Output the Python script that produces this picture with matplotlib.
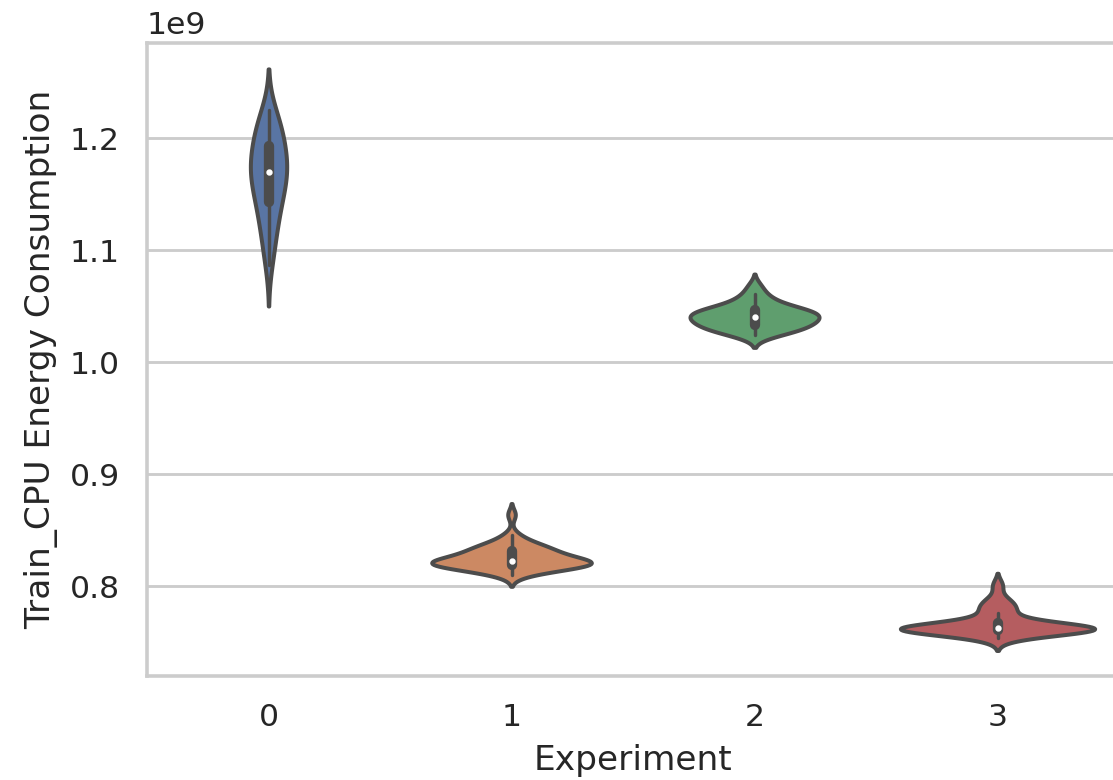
import numpy as np
import pandas as pd
import matplotlib
matplotlib.use("Agg")
import matplotlib.pyplot as plt
import seaborn as sns

# Train CPU energy per run, in units of 1e9
exp0 = [1.087, 1.100, 1.110, 1.118, 1.125, 1.131, 1.137, 1.142, 1.147, 1.151,
        1.155, 1.159, 1.162, 1.165, 1.168, 1.171, 1.174, 1.177, 1.180, 1.183,
        1.186, 1.190, 1.194, 1.198, 1.202, 1.206, 1.210, 1.215, 1.220, 1.225]
exp1 = [0.810, 0.812, 0.814, 0.815, 0.816, 0.817, 0.817, 0.818, 0.818, 0.819,
        0.819, 0.820, 0.820, 0.820, 0.821, 0.821, 0.821, 0.822, 0.822, 0.823,
        0.823, 0.824, 0.824, 0.825, 0.826, 0.827, 0.828, 0.829, 0.830, 0.831,
        0.832, 0.833, 0.834, 0.835, 0.836, 0.837, 0.839, 0.842, 0.846, 0.864]
exp2 = [1.024, 1.026, 1.027, 1.028, 1.030, 1.031, 1.032, 1.033, 1.034, 1.035,
        1.036, 1.037, 1.038, 1.039, 1.040, 1.041, 1.042, 1.043, 1.043, 1.044,
        1.045, 1.046, 1.047, 1.048, 1.049, 1.051, 1.054, 1.057, 1.061, 1.068]
exp3 = [0.7535, 0.757, 0.759, 0.760, 0.760, 0.761, 0.761, 0.761, 0.761, 0.762,
        0.762, 0.762, 0.762, 0.762, 0.763, 0.763, 0.763, 0.763, 0.764, 0.764,
        0.765, 0.766, 0.768, 0.772, 0.776, 0.779, 0.782, 0.785, 0.789, 0.801]

experiments = ["0", "1", "2", "3"]
runs = [exp0, exp1, exp2, exp3]

rows = []
for name, vals in zip(experiments, runs):
    for v in vals:
        rows.append({"Experiment": name, "Train_CPU Energy Consumption": v * 1e9})
df = pd.DataFrame(rows)

sns.set_theme(style="whitegrid", context="notebook")

fig = plt.figure(figsize=(1113 / 206, 780 / 206), dpi=206)
ax = fig.add_axes([0.1321, 0.1333, 0.8733, 0.8117])

sns.violinplot(data=df, x="Experiment", y="Train_CPU Energy Consumption",
               hue="Experiment", palette="deep", legend=False, ax=ax,
               common_norm=True, linewidth=1.4,
               inner_kws=dict(box_width=3.6, marker="."))

ax.set_xlim(-0.5, 3.5)
ax.set_ylim(0.72e9, 1.285e9)

fig.savefig("out.png", dpi=206)
